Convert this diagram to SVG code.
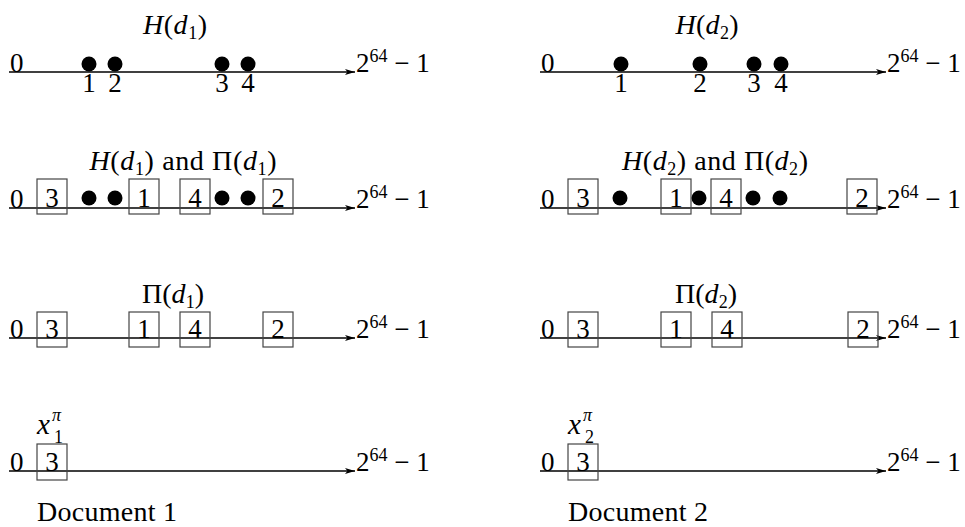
<svg xmlns="http://www.w3.org/2000/svg" width="965" height="527" viewBox="0 0 965 527">
<defs>
<style>
text{font-family:"Liberation Serif","DejaVu Serif",serif;font-size:27px;fill:#000}
.it{font-style:italic}
.sm{font-size:18px}
.ttl{font-size:28px}
.mid{text-anchor:middle}
.axis{stroke:#000;stroke-width:1.3;fill:none}
.box{fill:none;stroke:#444;stroke-width:1.2}
.dot{fill:#000}
</style>
<marker id="arr" viewBox="0 0 10 6" refX="10" refY="3" markerWidth="10" markerHeight="6" markerUnits="userSpaceOnUse" orient="auto">
<path d="M0,0 L10,3 L0,6 L2.5,3 z" fill="#000"/>
</marker>
</defs>
<rect width="965" height="527" fill="#fff"/>

<g id="connectors">
<line class="axis" x1="9" y1="72" x2="355" y2="72" marker-end="url(#arr)"/>
<line class="axis" x1="9" y1="208" x2="355" y2="208" marker-end="url(#arr)"/>
<line class="axis" x1="9" y1="338" x2="355" y2="338" marker-end="url(#arr)"/>
<line class="axis" x1="9" y1="471" x2="355" y2="471" marker-end="url(#arr)"/>
<line class="axis" x1="540" y1="72" x2="886" y2="72" marker-end="url(#arr)"/>
<line class="axis" x1="540" y1="208" x2="886" y2="208" marker-end="url(#arr)"/>
<line class="axis" x1="540" y1="338" x2="886" y2="338" marker-end="url(#arr)"/>
<line class="axis" x1="540" y1="471" x2="886" y2="471" marker-end="url(#arr)"/>
</g>

<g id="axis-labels">
<text x="10" y="72">0</text>
<text x="10" y="208">0</text>
<text x="10" y="338">0</text>
<text x="10" y="471">0</text>
<text x="541" y="72">0</text>
<text x="541" y="208">0</text>
<text x="541" y="338">0</text>
<text x="541" y="471">0</text>
<text x="356" y="72">2<tspan class="sm" dy="-10">64</tspan><tspan dy="10"> − 1</tspan></text>
<text x="356" y="208">2<tspan class="sm" dy="-10">64</tspan><tspan dy="10"> − 1</tspan></text>
<text x="356" y="338">2<tspan class="sm" dy="-10">64</tspan><tspan dy="10"> − 1</tspan></text>
<text x="356" y="471">2<tspan class="sm" dy="-10">64</tspan><tspan dy="10"> − 1</tspan></text>
<text x="887" y="72">2<tspan class="sm" dy="-10">64</tspan><tspan dy="10"> − 1</tspan></text>
<text x="887" y="208">2<tspan class="sm" dy="-10">64</tspan><tspan dy="10"> − 1</tspan></text>
<text x="887" y="338">2<tspan class="sm" dy="-10">64</tspan><tspan dy="10"> − 1</tspan></text>
<text x="887" y="471">2<tspan class="sm" dy="-10">64</tspan><tspan dy="10"> − 1</tspan></text>
</g>

<g id="titles">
<text class="mid ttl" x="175" y="34" textLength="64" lengthAdjust="spacing"><tspan class="it">H</tspan>(<tspan class="it">d</tspan><tspan class="sm" dy="5">1</tspan><tspan dy="-5">)</tspan></text>
<text class="mid ttl" x="183" y="170" textLength="187" lengthAdjust="spacing"><tspan class="it">H</tspan>(<tspan class="it">d</tspan><tspan class="sm" dy="5">1</tspan><tspan dy="-5">) and Π(</tspan><tspan class="it">d</tspan><tspan class="sm" dy="5">1</tspan><tspan dy="-5">)</tspan></text>
<text class="mid ttl" x="173" y="303" textLength="62" lengthAdjust="spacing">Π(<tspan class="it">d</tspan><tspan class="sm" dy="5">1</tspan><tspan dy="-5">)</tspan></text>
<text class="mid ttl" x="707" y="34" textLength="63" lengthAdjust="spacing"><tspan class="it">H</tspan>(<tspan class="it">d</tspan><tspan class="sm" dy="5">2</tspan><tspan dy="-5">)</tspan></text>
<text class="mid ttl" x="715" y="170" textLength="186" lengthAdjust="spacing"><tspan class="it">H</tspan>(<tspan class="it">d</tspan><tspan class="sm" dy="5">2</tspan><tspan dy="-5">) and Π(</tspan><tspan class="it">d</tspan><tspan class="sm" dy="5">2</tspan><tspan dy="-5">)</tspan></text>
<text class="mid ttl" x="706" y="303" textLength="62" lengthAdjust="spacing">Π(<tspan class="it">d</tspan><tspan class="sm" dy="5">2</tspan><tspan dy="-5">)</tspan></text>
</g>

<g id="h1-p1"><circle class="dot" cx="89" cy="64" r="7.5"/><text class="mid" x="89" y="92">1</text></g>
<g id="h1-p2"><circle class="dot" cx="115" cy="64" r="7.5"/><text class="mid" x="115" y="92">2</text></g>
<g id="h1-p3"><circle class="dot" cx="222" cy="64" r="7.5"/><text class="mid" x="222" y="92">3</text></g>
<g id="h1-p4"><circle class="dot" cx="248" cy="64" r="7.5"/><text class="mid" x="248" y="92">4</text></g>

<g id="h2-p1"><circle class="dot" cx="621" cy="64" r="7.5"/><text class="mid" x="621" y="92">1</text></g>
<g id="h2-p2"><circle class="dot" cx="700" cy="64" r="7.5"/><text class="mid" x="700" y="92">2</text></g>
<g id="h2-p3"><circle class="dot" cx="754" cy="64" r="7.5"/><text class="mid" x="754" y="92">3</text></g>
<g id="h2-p4"><circle class="dot" cx="781" cy="64" r="7.5"/><text class="mid" x="781" y="92">4</text></g>

<g id="hp1-b3"><rect class="box" x="37" y="179" width="30" height="35"/><text class="mid" x="52" y="207">3</text></g>
<g id="hp1-d1"><circle class="dot" cx="89" cy="198" r="7.5"/></g>
<g id="hp1-d2"><circle class="dot" cx="115" cy="198" r="7.5"/></g>
<g id="hp1-b1"><rect class="box" x="129" y="179" width="30" height="35"/><text class="mid" x="144" y="207">1</text></g>
<g id="hp1-b4"><rect class="box" x="180" y="179" width="30" height="35"/><text class="mid" x="195" y="207">4</text></g>
<g id="hp1-d3"><circle class="dot" cx="222" cy="198" r="7.5"/></g>
<g id="hp1-d4"><circle class="dot" cx="248" cy="198" r="7.5"/></g>
<g id="hp1-b2"><rect class="box" x="263" y="179" width="30" height="35"/><text class="mid" x="278" y="207">2</text></g>

<g id="hp2-b3"><rect class="box" x="568" y="179" width="30" height="35"/><text class="mid" x="583" y="207">3</text></g>
<g id="hp2-d1"><circle class="dot" cx="620" cy="198" r="7.5"/></g>
<g id="hp2-b1"><rect class="box" x="661" y="179" width="30" height="35"/><text class="mid" x="676" y="207">1</text></g>
<g id="hp2-d2"><circle class="dot" cx="699" cy="198" r="7.5"/></g>
<g id="hp2-b4"><rect class="box" x="711" y="179" width="30" height="35"/><text class="mid" x="726" y="207">4</text></g>
<g id="hp2-d3"><circle class="dot" cx="753" cy="198" r="7.5"/></g>
<g id="hp2-d4"><circle class="dot" cx="780" cy="198" r="7.5"/></g>
<g id="hp2-b2"><rect class="box" x="847" y="179" width="30" height="35"/><text class="mid" x="862" y="207">2</text></g>

<g id="p1-b3"><rect class="box" x="37" y="312" width="30" height="35"/><text class="mid" x="52" y="338">3</text></g>
<g id="p1-b1"><rect class="box" x="129" y="312" width="30" height="35"/><text class="mid" x="144" y="338">1</text></g>
<g id="p1-b4"><rect class="box" x="180" y="312" width="30" height="35"/><text class="mid" x="195" y="338">4</text></g>
<g id="p1-b2"><rect class="box" x="263" y="312" width="30" height="35"/><text class="mid" x="278" y="338">2</text></g>

<g id="p2-b3"><rect class="box" x="568" y="312" width="30" height="35"/><text class="mid" x="583" y="338">3</text></g>
<g id="p2-b1"><rect class="box" x="661" y="312" width="30" height="35"/><text class="mid" x="676" y="338">1</text></g>
<g id="p2-b4"><rect class="box" x="712" y="312" width="30" height="35"/><text class="mid" x="727" y="338">4</text></g>
<g id="p2-b2"><rect class="box" x="848" y="312" width="30" height="35"/><text class="mid" x="863" y="338">2</text></g>

<g id="x1-b3"><rect class="box" x="37" y="444" width="30" height="36"/><text class="mid" x="52" y="471">3</text></g>
<g id="x2-b3"><rect class="box" x="568" y="444" width="30" height="36"/><text class="mid" x="583" y="471">3</text></g>

<g id="x1-label"><text class="it" x="37" y="434" style="font-size:29px">x</text><text class="sm it" x="52" y="421">π</text><text class="sm" x="54" y="443">1</text></g>
<g id="x2-label"><text class="it" x="568" y="434" style="font-size:29px">x</text><text class="sm it" x="583" y="421">π</text><text class="sm" x="585" y="443">2</text></g>

<g id="doc-labels">
<text x="37" y="521" style="font-size:28px" textLength="140" lengthAdjust="spacing">Document 1</text>
<text x="568" y="521" style="font-size:28px" textLength="140" lengthAdjust="spacing">Document 2</text>
</g>
</svg>
